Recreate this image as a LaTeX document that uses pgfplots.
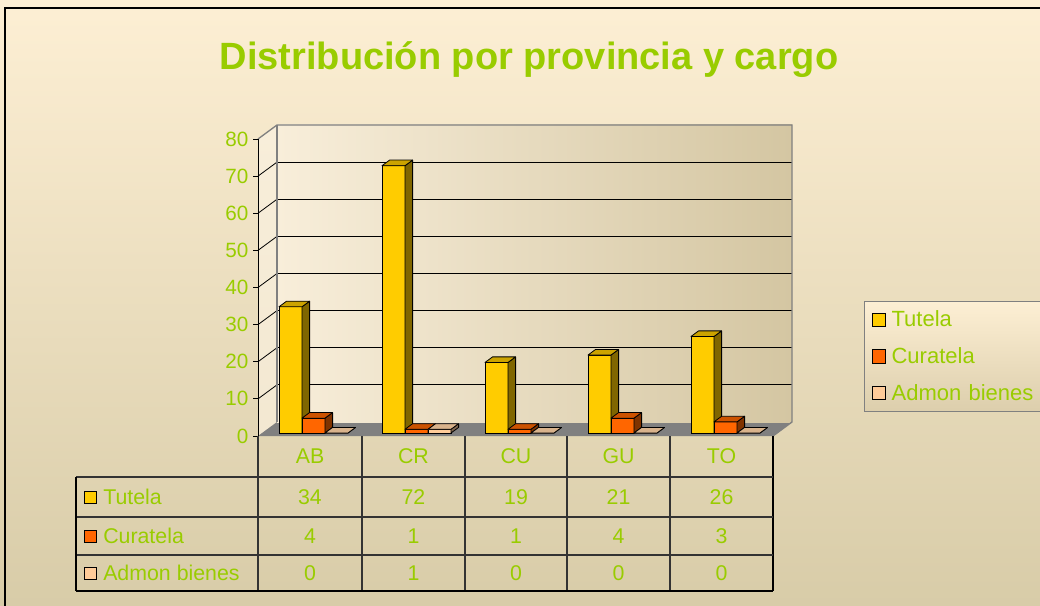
\documentclass[border=0pt]{standalone}
\usepackage{fontspec}
\setmainfont{Liberation Sans}
\usepackage{pgfplots}
\pgfplotsset{compat=1.18}
\definecolor{lime}{HTML}{99CC00}
\definecolor{tutF}{HTML}{FFCC00}
\definecolor{tutT}{HTML}{CCA300}
\definecolor{tutS}{HTML}{806600}
\definecolor{curF}{HTML}{FF6600}
\definecolor{curT}{HTML}{CC5200}
\definecolor{curS}{HTML}{803300}
\definecolor{admF}{HTML}{FFCC99}
\definecolor{admT}{HTML}{D9B38C}
\definecolor{admS}{HTML}{806650}
\definecolor{bgTop}{HTML}{FDEFD4}
\definecolor{bgBot}{HTML}{D8CCA8}
\definecolor{wallL}{HTML}{F8EEDA}
\definecolor{wallR}{HTML}{D4C6A2}
\definecolor{floorc}{HTML}{808080}
\definecolor{tline}{HTML}{333333}
\pgfdeclareplotmark{none3d}{}
\pgfplotsset{
  box3d/.style n args={3}{%
    only marks, mark=none3d, scatter, forget plot,
    visualization depends on={rawy \as \vv},
    scatter/@pre marker code/.code={%
      \pgfmathsetmacro{\hh}{\vv*2.7844}%
      \filldraw[fill=#2, draw=black, line width=0.6pt, line join=round]
        ({#1pt+8.625pt},0pt) -- ++(5.7pt,4.2pt) -- ++(0pt,-\hh pt) -- ++(-5.7pt,-4.2pt) -- cycle;
      \filldraw[fill=#3, draw=black, line width=0.6pt, line join=round]
        ({#1pt-8.625pt},0pt) -- ++(5.7pt,4.2pt) -- ++(17.25pt,0pt) -- ++(-5.7pt,-4.2pt) -- cycle;
    },
    scatter/@post marker code/.code={},
  },
  frontbar/.style n args={2}{%
    ybar, bar width=17.25pt, bar shift=#1pt, fill=#2, draw=black, line width=0.6pt,
  },
}
\newcommand{\tfont}{\fontsize{16}{19}\selectfont}
\begin{document}
\begin{tikzpicture}
\useasboundingbox (0,0) rectangle (780pt,-454.5pt);
\begin{scope}
\clip (0,0) rectangle (780pt,-454.5pt);
% background, walls, floor
\begin{scope}[x=0.75pt,y=-0.75pt]
  \shade[top color=bgTop, bottom color=bgBot] (0,0) rectangle (1040,606);
  \draw[black, line width=1.5pt] (5,8) rectangle (1060,630);
  \shade[top color=wallL, bottom color=wallL!85!wallR] (258,139) -- (277,125) -- (277,422) -- (258,436) -- cycle;
  \fill[floorc] (258,436) -- (773,436) -- (792,422) -- (277,422) -- cycle;
\end{scope}
% back wall with gridlines
\begin{axis}[at={(207.75pt,-316.5pt)}, anchor=south west,
  x=77.25pt, y=2.7844pt, xmin=0, xmax=5, ymin=0, ymax=80,
  axis line style={draw=none}, xtick=\empty, ytick={10,20,...,70},
  yticklabels={}, major tick length=0pt,
  ymajorgrids, grid style={black, line width=0.6pt},
  axis background/.style={left color=wallL, right color=wallR},
  clip=false]
  \addplot[draw=none, forget plot] coordinates {(0,0) (5,80)};
\end{axis}
\begin{scope}[x=0.75pt,y=-0.75pt]
  \foreach \v in {10,20,...,70}{
    \draw[black, line width=0.6pt] (258,{436-3.7125*\v}) -- (277,{422-3.7125*\v});
  }
  \draw[floorc, line width=1pt] (258,139) -- (277,125) -- (792,125) -- (792,422) -- (773,436);
  \draw[floorc, line width=1pt] (277,125) -- (277,422);
\end{scope}
% front value axis
\begin{axis}[at={(193.5pt,-327pt)}, anchor=south west,
  x=77.25pt, y=2.7844pt, xmin=0, xmax=5, ymin=0, ymax=80,
  axis x line=none, axis y line*=left,
  ytick={0,10,...,80}, tick align=outside, major tick length=3.75pt,
  ytick style={black, line width=0.6pt},
  axis line style={black, line width=0.75pt},
  yticklabel style={font=\fontsize{15.5}{15.5}\selectfont, text=lime},
  /pgf/number format/assume math mode=true]
  \addplot[draw=none, forget plot] coordinates {(0,0) (5,80)};
\end{axis}
% bars
\begin{axis}[at={(196.5pt,-324.75pt)}, anchor=south west,
  x=77.25pt, y=2.7844pt, xmin=-0.5, xmax=4.5, ymin=0, ymax=80,
  hide axis, clip=false, clip marker paths=true,
  legend image code/.code={\draw[#1, draw=black, line width=0.75pt] (0pt,-5pt) rectangle (10pt,5pt);},
  legend style={at={(1.1689,0.4444)}, anchor=north west,
    draw=floorc, line width=0.9pt, top color=bgTop, bottom color=wallR!80!bgTop,
    font=\fontsize{16.5}{19}\selectfont, text=lime,
    row sep=10pt, inner xsep=5.5pt, inner ysep=5pt,
    /tikz/every odd column/.append style={column sep=2pt},
    /tikz/every even column/.append style={text width=118pt}},
  legend cell align=left]
  \addplot[frontbar={-17.25}{tutF}] coordinates {(0,34) (1,72) (2,19) (3,21) (4,26)};
  \addlegendentry{Tutela}
  \addplot[box3d={-17.25}{tutS}{tutT}] coordinates {(0,34) (1,72) (2,19) (3,21) (4,26)};
  \addplot[frontbar={0}{curF}] coordinates {(0,4) (1,1) (2,1) (3,4) (4,3)};
  \addlegendentry{Curatela}
  \addplot[box3d={0}{curS}{curT}] coordinates {(0,4) (1,1) (2,1) (3,4) (4,3)};
  \addplot[frontbar={17.25}{admF}] coordinates {(0,0) (1,1) (2,0) (3,0) (4,0)};
  \addlegendentry{Admon bienes}
  \addplot[box3d={17.25}{admS}{admT}] coordinates {(0,0) (1,1) (2,0) (3,0) (4,0)};
\end{axis}
% data table
\begin{scope}[x=0.75pt,y=-0.75pt]
  \draw[tline, line width=0.9pt] (258,436) -- (258,591);
  \foreach \xx in {362,465,567,670}{\draw[tline, line width=0.9pt] (\xx,436) -- (\xx,591);}
  \draw[black, line width=0.9pt] (773,436) -- (773,591);
  \draw[tline, line width=0.9pt] (76,477) -- (773,477);
  \draw[tline, line width=0.9pt] (76,517) -- (773,517);
  \draw[tline, line width=0.9pt] (76,555) -- (773,555);
  \draw[black, line width=0.9pt] (76,591) -- (773,591);
  \draw[black, line width=0.9pt] (76,477) -- (76,591);
  \foreach \c/\xx in {AB/310,CR/413.5,CU/516,GU/618.5,TO/721.5}{
    \node[text=lime, font=\tfont] at (\xx,456) {\c};
  }
  \foreach \a/\b/\c/\d/\e/\yy in {34/72/19/21/26/497, 4/1/1/4/3/536, 0/1/0/0/0/573}{
    \node[text=lime, font=\tfont] at (310,\yy) {\a};
    \node[text=lime, font=\tfont] at (413.5,\yy) {\b};
    \node[text=lime, font=\tfont] at (516,\yy) {\c};
    \node[text=lime, font=\tfont] at (618.5,\yy) {\d};
    \node[text=lime, font=\tfont] at (721.5,\yy) {\e};
  }
  \foreach \lab/\col/\yy in {Tutela/tutF/497, Curatela/curF/536, Admon bienes/admF/573}{
    \filldraw[fill=\col, draw=black, line width=0.75pt] (84,{\yy-6}) rectangle (96,{\yy+6});
    \node[text=lime, font=\tfont, anchor=west, inner sep=0pt] at (103,\yy) {\lab};
  }
  % title
  \node[text=lime, font=\fontsize{28.5}{30}\selectfont\bfseries, anchor=base] at (529,70) {Distribución por provincia y cargo};
\end{scope}
\end{scope}
\end{tikzpicture}
\end{document}
